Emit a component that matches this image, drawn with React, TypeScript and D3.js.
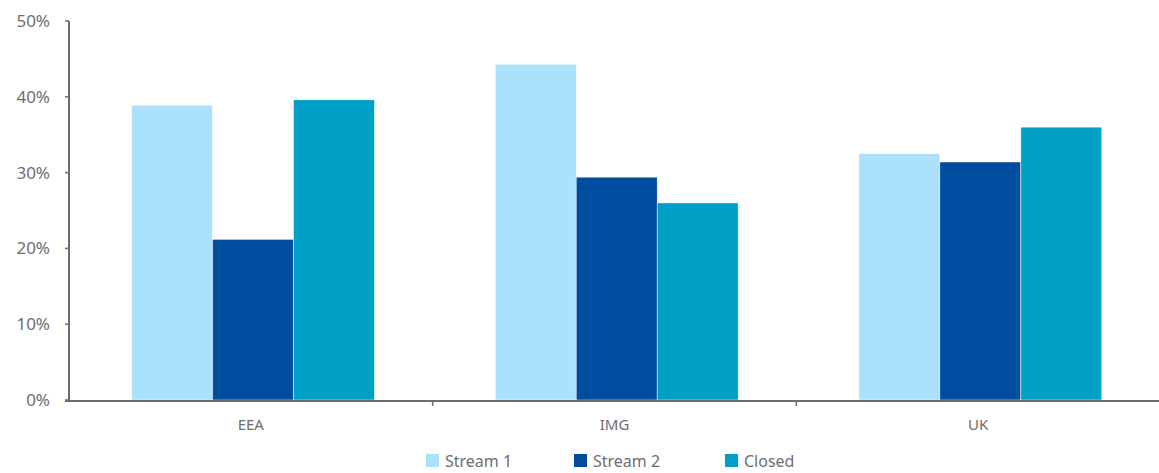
import React, { useEffect, useRef } from 'react';
import * as d3 from 'd3';

const categories = ['EEA', 'IMG', 'UK'];
const seriesNames = ['Stream 1', 'Stream 2', 'Closed'];
const stream1 = [0.389, 0.443, 0.325];
const stream2 = [0.212, 0.294, 0.314];
const closed = [0.396, 0.26, 0.36];
const yTicks = [0, 0.1, 0.2, 0.3, 0.4, 0.5];
const colors = ['#abe1fa', '#004c9f', '#00a0c6'];

const W = 1159;
const H = 473;
const FONT = '"Noto Sans", "Open Sans", sans-serif';

const App: React.FC = () => {
  const svgRef = useRef<SVGSVGElement>(null);

  useEffect(() => {
    if (!svgRef.current) return;
    const svg = d3.select(svgRef.current);
    svg.selectAll('*').remove();

    const axisColor = '#6d6e71';
    const left = 69;
    const x = d3.scaleBand<string>().domain(categories).range([left, 1160]).padding(0);
    const bw = x.bandwidth();
    const inner = d3.scaleBand<string>().domain(seriesNames).range([bw * 0.172, bw * 0.84]).padding(0);
    const y = d3.scaleLinear().domain([0, 0.5]).range([400, 21]);

    const values = [stream1, stream2, closed];

    // bars
    const g = svg.append('g');
    categories.forEach((cat, ci) => {
      seriesNames.forEach((s, si) => {
        const v = values[si][ci];
        g.append('rect')
          .attr('x', (x(cat) ?? 0) + (inner(s) ?? 0))
          .attr('y', y(v))
          .attr('width', inner.bandwidth())
          .attr('height', y(0) - y(v))
          .attr('fill', colors[si])
          .attr('stroke', '#ffffff')
          .attr('stroke-width', 0.5);
      });
    });

    // y axis
    svg.append('line')
      .attr('x1', left).attr('x2', left)
      .attr('y1', y(0.5)).attr('y2', y(0))
      .attr('stroke', axisColor).attr('stroke-width', 2);
    yTicks.forEach(t => {
      svg.append('line')
        .attr('x1', left - 4).attr('x2', left)
        .attr('y1', y(t)).attr('y2', y(t))
        .attr('stroke', axisColor).attr('stroke-width', 1.5);
      svg.append('text')
        .attr('x', 50).attr('y', y(t))
        .attr('dy', '0.35em')
        .attr('text-anchor', 'end')
        .attr('font-family', FONT)
        .attr('font-size', 17)
        .attr('fill', '#6d6e71')
        .text(d3.format('.0%')(t));
    });

    // x axis
    svg.append('line')
      .attr('x1', left - 4).attr('x2', W)
      .attr('y1', y(0) + 1).attr('y2', y(0) + 1)
      .attr('stroke', axisColor).attr('stroke-width', 2);
    categories.slice(1).forEach(cat => {
      const xv = x(cat) ?? 0;
      svg.append('line')
        .attr('x1', xv).attr('x2', xv)
        .attr('y1', y(0) + 1).attr('y2', y(0) + 6)
        .attr('stroke', axisColor).attr('stroke-width', 1.5);
    });
    categories.forEach(cat => {
      svg.append('text')
        .attr('x', (x(cat) ?? 0) + bw / 2)
        .attr('y', 425)
        .attr('dy', '0.35em')
        .attr('text-anchor', 'middle')
        .attr('font-family', FONT)
        .attr('font-size', 15)
        .attr('fill', '#6d6e71')
        .text(cat);
    });

    // legend
    const legendX = [426, 574, 725];
    seriesNames.forEach((s, i) => {
      svg.append('rect')
        .attr('x', legendX[i]).attr('y', 454)
        .attr('width', 13).attr('height', 13)
        .attr('fill', colors[i]);
      svg.append('text')
        .attr('x', legendX[i] + 19).attr('y', 461)
        .attr('dy', '0.35em')
        .attr('font-family', FONT)
        .attr('font-size', 16)
        .attr('fill', '#6d6e71')
        .text(s);
    });
  }, []);

  return (
    <svg
      ref={svgRef}
      width={W}
      height={H}
      style={{ position: 'absolute', left: 0, top: 0, background: '#fff', display: 'block' }}
    />
  );
};

export default App;
